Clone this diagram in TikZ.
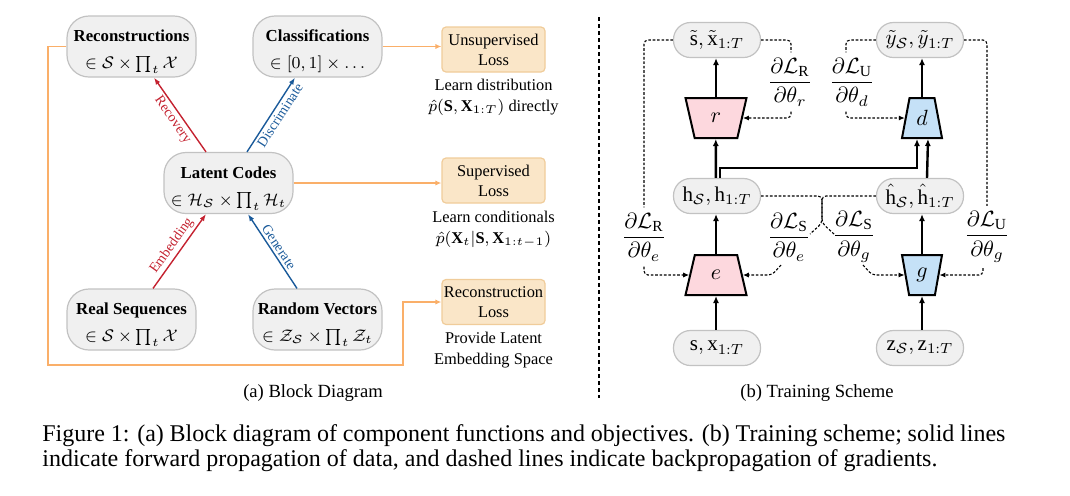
\RequirePackage{fix-cm}
\documentclass[tikz,border=0pt]{standalone}
\usepackage{amsmath}
\usepackage{fontspec}
\setmainfont{Liberation Serif}
\usetikzlibrary{arrows.meta,shapes.geometric,calc}
\definecolor{pillF}{HTML}{F0F0F0}
\definecolor{pillD}{HTML}{C2C2C2}
\definecolor{lossF}{HTML}{FAE6C8}
\definecolor{lossD}{HTML}{F0CC9A}
\definecolor{orngc}{HTML}{FAAF69}
\definecolor{redc}{HTML}{C42230}
\definecolor{bluec}{HTML}{1A5A9A}
\definecolor{pinkc}{HTML}{FDD8DE}
\definecolor{lblue}{HTML}{C5E1F7}
\newcommand{\ttl}[1]{\rule{0pt}{11pt}\textbf{#1}\\[2.5pt]}
\begin{document}
\begin{tikzpicture}[x=0.5pt,y=-0.5pt,
  pillL/.style={draw=pillD, fill=pillF, rounded corners=11pt, minimum width=64.5pt, minimum height=30.5pt, align=center, font=\fontsize{8.4}{11}\selectfont, inner sep=0pt, line width=0.6pt},
  lossB/.style={draw=lossD, fill=lossF, rounded corners=2pt, minimum width=51.5pt, minimum height=22.5pt, align=center, font=\fontsize{8.2}{10}\selectfont, inner sep=0pt, line width=0.6pt},
  note/.style={align=center, font=\fontsize{8.2}{10.5}\selectfont, inner sep=0pt},
  orngline/.style={draw=orngc, line width=0.8pt, -{Latex[length=3pt,width=2.6pt]}},
  redarr/.style={draw=redc, line width=0.7pt, -{Latex[length=3.5pt,width=2.6pt]}},
  bluearr/.style={draw=bluec, line width=0.7pt, -{Latex[length=3.5pt,width=2.6pt]}},
  arrlbl/.style={font=\fontsize{7}{8}\selectfont, inner sep=1.2pt, sloped},
  pillR/.style={draw=pillD, fill=pillF, rounded corners=8.5pt, minimum width=43.5pt, minimum height=17.5pt, inner sep=0pt, font=\fontsize{10.5}{12}\selectfont, line width=0.6pt},
  trap/.style={trapezium, draw=black, line width=1pt, minimum height=20pt, trapezium stretches=true, inner sep=0pt, font=\fontsize{11}{12}\selectfont, trapezium left angle=#1, trapezium right angle=#1},
  fwd/.style={draw=black, line width=1.2pt, -{Latex[length=3.5pt,width=3pt]}},
  bp/.style={draw=black, line width=0.55pt, dash pattern=on 1.3pt off 0.9pt, rounded corners=2pt},
  bpa/.style={bp, -{Latex[length=3pt,width=2.6pt]}},
  fraclbl/.style={inner sep=2.5pt, font=\fontsize{11}{13}\selectfont},
  subcap/.style={font=\fontsize{9.3}{11}\selectfont, inner sep=0pt},
  captext/.style={font=\fontsize{12}{13}\selectfont, inner sep=0pt, anchor=base west}
]
\useasboundingbox (0,0) rectangle (1070,495);

% ---------- (a) Block diagram ----------
\node[pillL] (rc) at (131.5,46.5) {\ttl{Reconstructions}$\in\mathcal{S}\times\prod_t\mathcal{X}$};
\node[pillL] (cl) at (317.5,46.5) {\ttl{Classifications}$\in[0,1]\times\ldots$};
\node[pillL] (lc) at (228.5,183) {\ttl{Latent Codes}$\in\mathcal{H}_\mathcal{S}\times\prod_t\mathcal{H}_t$};
\node[pillL] (rs) at (131.5,319.5) {\ttl{Real Sequences}$\in\mathcal{S}\times\prod_t\mathcal{X}$};
\node[pillL] (rv) at (317.5,319.5) {\ttl{Random Vectors}$\in\mathcal{Z}_\mathcal{S}\times\prod_t\mathcal{Z}_t$};

\node[lossB] (ul) at (493.5,49.5) {Unsupervised\\Loss};
\node[lossB] (sl) at (493.5,180.5) {Supervised\\Loss};
\node[lossB] (rl) at (493.5,302) {Reconstruction\\Loss};

\node[note] (n1) at (493.5,97) {Learn distribution\\$\hat{p}(\mathbf{S},\mathbf{X}_{1:T})$ directly};
\node[note] (n2) at (493.5,229) {Learn conditionals\\$\hat{p}(\mathbf{X}_t|\mathbf{S},\mathbf{X}_{1:t-1})$};
\node[note] (n3) at (493.5,350) {Provide Latent\\Embedding Space};

\draw[redarr] ([xshift=-11.25pt]lc.north) -- node[arrlbl, below, text=redc] {Recovery} ([xshift=11.25pt]rc.south);
\draw[bluearr] ([xshift=9.25pt]lc.north) -- node[arrlbl, below, pos=0.55, text=bluec] {Discriminate} ([xshift=-11.25pt]cl.south);
\draw[redarr] ([xshift=10.75pt]rs.north) -- node[arrlbl, above, text=redc] {Embedding} ([xshift=-11.25pt]lc.south);
\draw[bluearr] ([xshift=-10.25pt]rv.north) -- node[arrlbl, above, text=bluec] {Generate} ([xshift=9.75pt]lc.south);

\draw[orngline] (cl.east) -- (cl.east -| ul.west);
\draw[orngline] (lc.east) -- (lc.east -| sl.west);
\coordinate (o1) at (48,365);
\coordinate (o2) at (403,365);
\draw[orngline] (rc.west) -| (o1) -- (o2) |- (rl.west);

\node[subcap] (ca) at (313,393) {(a) Block Diagram};

% separator
\coordinate (s1) at (599,17);
\coordinate (s2) at (599,398);
\draw[line width=1pt, dash pattern=on 2pt off 1.5pt] (s1) -- (s2);

% ---------- (b) Training scheme ----------
\node[pillR] (st) at (717,40) {$\tilde{\mathrm{s}},\tilde{\mathrm{x}}_{1:T}$};
\node[pillR] (yt) at (920,40) {$\tilde{y}_\mathcal{S},\tilde{y}_{1:T}$};
\node[pillR] (h) at (717,196) {$\mathrm{h}_\mathcal{S},\mathrm{h}_{1:T}$};
\node[pillR] (hh) at (920,196) {$\hat{\mathrm{h}}_\mathcal{S},\hat{\mathrm{h}}_{1:T}$};
\node[pillR] (sx) at (717,348) {$\mathrm{s},\mathrm{x}_{1:T}$};
\node[pillR] (zz) at (920,348) {$\mathrm{z}_\mathcal{S},\mathrm{z}_{1:T}$};

\node[trap=103.4, minimum width=30.5pt, fill=pinkc] (r) at (716,118) {$r$};
\node[trap=77.3, minimum width=20pt, fill=lblue] (d) at (922,118) {$d$};
\node[trap=76.6, minimum width=30.5pt, fill=pinkc] (e) at (716,275) {$e$};
\node[trap=102.7, minimum width=20pt, fill=lblue] (g) at (922,275) {$g$};

\draw[fwd] (r.north) -- (r.north |- st.south);
\draw[fwd] (d.north) -- (d.north |- yt.south);
\draw[fwd] ([xshift=-0.6pt]h.north) -- ([xshift=-0.1pt]r.south);
\draw[fwd] ([xshift=1.4pt]h.north) -- ++(0,-10) -| ([xshift=-2.5pt]d.south);
\draw[fwd] ([xshift=3.5pt]hh.north) -- ([xshift=3pt]d.south);
\draw[fwd] (sx.north -| e.south) -- (e.south);
\draw[fwd] (e.north) -- (e.north |- h.south);
\draw[fwd] (zz.north -| g.south) -- (g.south);
\draw[fwd] (g.north) -- (g.north |- hh.south);

\node[fraclbl] (LRr) at (790,82) {$\dfrac{\partial\mathcal{L}_\mathrm{R}}{\partial\theta_r}$};
\node[fraclbl] (LUd) at (852,82) {$\dfrac{\partial\mathcal{L}_\mathrm{U}}{\partial\theta_d}$};
\node[fraclbl] (LRe) at (644,237) {$\dfrac{\partial\mathcal{L}_\mathrm{R}}{\partial\theta_e}$};
\node[fraclbl] (LSe) at (789,237) {$\dfrac{\partial\mathcal{L}_\mathrm{S}}{\partial\theta_e}$};
\node[fraclbl] (LSg) at (854,237) {$\dfrac{\partial\mathcal{L}_\mathrm{S}}{\partial\theta_g}$};
\node[fraclbl] (LUg) at (987,237) {$\dfrac{\partial\mathcal{L}_\mathrm{U}}{\partial\theta_g}$};

\draw[bp] (st.west) -| (LRe.north);
\draw[bpa] (LRe.south) |- (e.west);
\draw[bp] (st.east) -| ([xshift=0.5pt]LRr.north);
\draw[bpa] ([xshift=0.5pt]LRr.south) |- (r.east);
\draw[bp] (yt.west) -| ([xshift=-3pt]LUd.north);
\draw[bpa] ([xshift=-3pt]LUd.south) |- (d.west);
\draw[bp] (yt.east) -| (LUg.north);
\draw[bpa] ([xshift=-2pt]LUg.south) |- (g.east);

\coordinate (mg) at (822,223);
\coordinate (m1) at (810,234);
\coordinate (m2) at (834,234);
\draw[bp] (h.east) -| (mg) -- (m1);
\draw[bp] (hh.west) -| (mg) -- (m2);
\coordinate (m3) at (781,265);
\coordinate (m4) at (863,265);
\draw[bpa] (m3) -- ++(-9,10) -- (e.east);
\draw[bpa] (m4) -- ++(9,10) -- (g.west);

\node[subcap] (cb) at (817,393) {(b) Training Scheme};

% ---------- caption ----------
\node[captext] (c1) at (42,441) {\hbox to 481.5pt{Figure 1: (a) Block diagram of component functions and objectives. (b) Training scheme; solid lines}};
\node[captext] (c2) at (42,466) {indicate forward propagation of data, and dashed lines indicate backpropagation of gradients.};
\end{tikzpicture}
\end{document}
